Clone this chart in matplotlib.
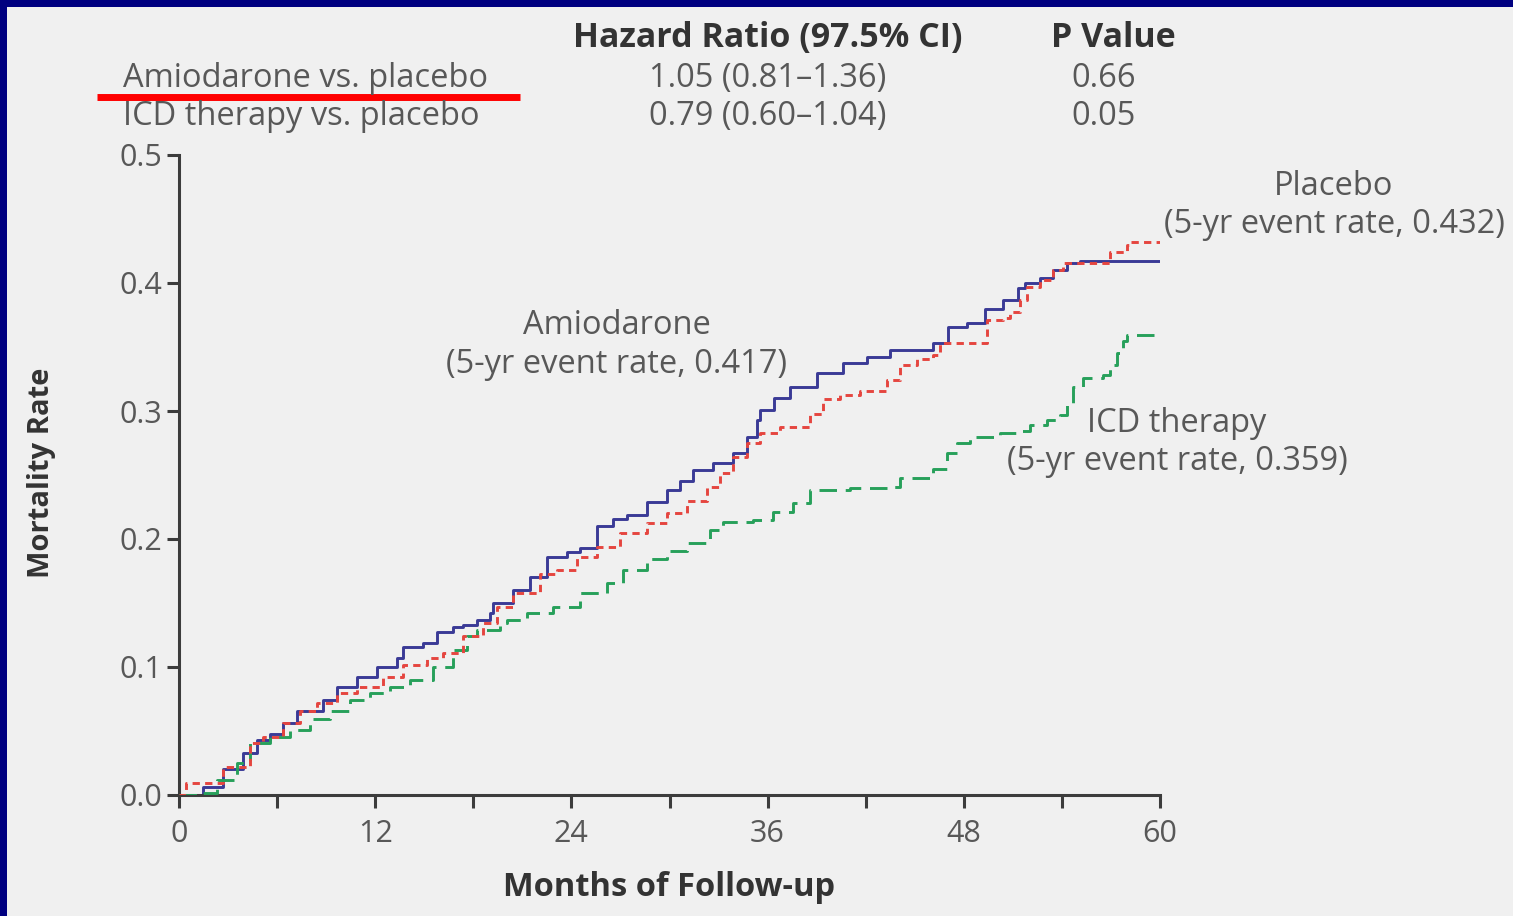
import matplotlib
matplotlib.use("Agg")
import matplotlib.pyplot as plt
from matplotlib.patches import Rectangle
from matplotlib.lines import Line2D

# ---- data ----
amio_t = [0, 1.47, 2.69, 3.91, 4.77, 5.57, 6.36, 7.22, 8.01, 8.81, 9.66, 10.89, 12.11, 13.33, 13.70,
          14.92, 15.78, 16.76, 17.37, 18.23, 19.02, 19.2, 20.43, 21.47, 22.51, 23.73, 24.53, 25.57,
          26.54, 27.40, 28.62, 29.85, 30.64, 31.44, 32.66, 33.88, 34.74, 35.35, 35.54, 36.4, 37.37,
          39.02, 40.61, 42.08, 43.49, 46.12, 47.03, 48.2, 49.3, 50.4, 51.3, 51.74, 52.66, 53.46,
          54.31, 55.1, 60]
amio_y = [0, 0.006, 0.02, 0.033, 0.043, 0.048, 0.056, 0.066, 0.066, 0.074, 0.084, 0.092, 0.100, 0.107,
          0.116, 0.119, 0.127, 0.131, 0.133, 0.137, 0.142, 0.150, 0.160, 0.170, 0.186, 0.190, 0.193,
          0.210, 0.216, 0.219, 0.229, 0.238, 0.245, 0.254, 0.259, 0.267, 0.280, 0.293, 0.301, 0.310,
          0.319, 0.330, 0.3375, 0.342, 0.348, 0.353, 0.366, 0.369, 0.380, 0.387, 0.396, 0.400, 0.404,
          0.410, 0.416, 0.417, 0.417]

plac_t = [0, 0.43, 2.69, 4.34, 5.14, 6.36, 7.40, 8.44, 9.66, 10.89, 12.48, 13.70, 15.17, 16.15, 17.37,
          18.59, 19.45, 20.43, 22.08, 23.12, 24.34, 25.57, 26.97, 28.62, 29.85, 31.07, 32.29, 33.09,
          33.88, 34.74, 35.54, 36.76, 38.59, 39.39, 40.43, 41.65, 43.30, 44.10, 45.14, 46.12, 46.54,
          49.42, 50.40, 50.83, 51.44, 51.87, 52.66, 53.46, 54.07, 56.94, 57.98, 58.17, 60]
plac_y = [0, 0.009, 0.022, 0.041, 0.045, 0.056, 0.066, 0.072, 0.080, 0.084, 0.092, 0.1015, 0.107, 0.111,
          0.124, 0.134, 0.147, 0.158, 0.173, 0.176, 0.186, 0.194, 0.205, 0.2125, 0.220, 0.230, 0.241,
          0.2515, 0.264, 0.275, 0.283, 0.2875, 0.298, 0.309, 0.3125, 0.316, 0.324, 0.336, 0.341, 0.344,
          0.353, 0.371, 0.373, 0.377, 0.387, 0.397, 0.402, 0.410, 0.416, 0.424, 0.430, 0.432, 0.432]

icd_t = [0, 1.1, 2.32, 3.55, 4.34, 5.57, 6.79, 8.01, 9.24, 10.46, 11.68, 12.91, 14.13, 15.54, 16.76,
         17.61, 18.23, 19.63, 20.06, 21.28, 22.87, 24.53, 26.18, 27.16, 28.62, 29.85, 31.07, 32.48,
         33.27, 35.11, 36.33, 37.55, 38.59, 41.04, 43.30, 44.10, 46.12, 46.97, 47.58, 48.38, 50.21,
         51.44, 52.05, 53.09, 53.88, 54.31, 54.68, 55.29, 56.51, 56.94, 57.37, 57.74, 57.98, 60]
icd_y = [0, 0.0016, 0.012, 0.025, 0.041, 0.045, 0.051, 0.059, 0.066, 0.074, 0.080, 0.084, 0.090, 0.100,
         0.113, 0.124, 0.129, 0.134, 0.137, 0.142, 0.147, 0.158, 0.166, 0.176, 0.184, 0.191, 0.197,
         0.207, 0.213, 0.215, 0.221, 0.228, 0.238, 0.240, 0.241, 0.248, 0.255, 0.267, 0.275, 0.280,
         0.283, 0.284, 0.289, 0.293, 0.297, 0.306, 0.319, 0.326, 0.328, 0.336, 0.345, 0.355, 0.359, 0.359]

x_ticks = [0, 12, 24, 36, 48, 60]
x_minor = [6, 18, 30, 42, 54]
y_ticks = [0.0, 0.1, 0.2, 0.3, 0.4, 0.5]
y_ticklabels = ["0.0", "0.1", "0.2", "0.3", "0.4", "0.5"]

table_rows = ["Amiodarone vs. placebo", "ICD therapy vs. placebo"]
table_hr = ["1.05 (0.81\u20131.36)", "0.79 (0.60\u20131.04)"]
table_p = ["0.66", "0.05"]

# ---- style ----
W, H = 1513, 916
BG = "#f0f0f0"
NAVY = "#000080"
TXT = "#585858"
DARK = "#333333"
C_AMIO = "#3a3a96"
C_PLAC = "#e5453f"
C_ICD = "#27a05a"
FONT = "Open Sans"
FS = 23.5

fig = plt.figure(figsize=(W / 100, H / 100), dpi=100, facecolor=BG)

def fx(px):
    return px / W

def fy(py):
    return 1 - py / H

# navy border top and left
fig.patches.append(Rectangle((0, fy(7)), 1, 7 / H, transform=fig.transFigure,
                             facecolor=NAVY, edgecolor="none", zorder=10))
fig.patches.append(Rectangle((0, 0), 7 / W, 1, transform=fig.transFigure,
                             facecolor=NAVY, edgecolor="none", zorder=10))

ax = fig.add_axes([fx(179), fy(795), fx(1160) - fx(179), fy(155) - fy(795)])
ax.set_facecolor(BG)
ax.set_xlim(0, 60)
ax.set_ylim(0, 0.5)

ax.plot(icd_t, icd_y, drawstyle="steps-post", color=C_ICD, lw=2.1,
        linestyle=(0, (6, 3)), zorder=3)
ax.plot(plac_t, plac_y, drawstyle="steps-post", color=C_PLAC, lw=2.1,
        linestyle=(0, (2.5, 1.8)), zorder=4)
ax.plot(amio_t, amio_y, drawstyle="steps-post", color=C_AMIO, lw=2.1, zorder=2)

for s in ["top", "right"]:
    ax.spines[s].set_visible(False)
for s in ["left", "bottom"]:
    ax.spines[s].set_color("#3c3c3c")
    ax.spines[s].set_linewidth(2.2)

ax.set_xticks(x_ticks)
ax.set_xticks(x_minor, minor=True)
ax.set_yticks(y_ticks)
ax.set_yticklabels(y_ticklabels)
ax.tick_params(axis="both", which="both", direction="out", color="#3c3c3c", width=2.2,
               labelcolor=TXT, labelsize=22)
ax.tick_params(axis="x", which="both", length=9, pad=8)
ax.tick_params(axis="y", length=9, pad=3)
for lab in ax.get_xticklabels() + ax.get_yticklabels():
    lab.set_fontfamily(FONT)

fig.text(fx(669), fy(888), "Months of Follow-up", ha="center", va="center",
         fontsize=23.5, fontweight="bold", color=DARK, family=FONT)
fig.text(fx(42), fy(473), "Mortality Rate", ha="center", va="center", rotation=90,
         fontsize=21, fontweight="bold", color=DARK, family=FONT)

# header table (baselines)
fig.text(fx(768), fy(47), "Hazard Ratio (97.5% CI)", ha="center", va="baseline",
         fontsize=24.5, fontweight="bold", color=DARK, family=FONT)
fig.text(fx(1113), fy(47), "P Value", ha="center", va="baseline",
         fontsize=24.5, fontweight="bold", color=DARK, family=FONT)
row_base = [87, 125]
for i in range(2):
    fig.text(fx(123), fy(row_base[i]), table_rows[i], ha="left", va="baseline",
             fontsize=FS, color=TXT, family=FONT)
    fig.text(fx(768), fy(row_base[i]), table_hr[i], ha="center", va="baseline",
             fontsize=FS, color=TXT, family=FONT)
    fig.text(fx(1104), fy(row_base[i]), table_p[i], ha="center", va="baseline",
             fontsize=FS, color=TXT, family=FONT)

# red underline
fig.lines.append(Line2D([fx(97), fx(520)], [fy(97), fy(97)], transform=fig.transFigure,
                        color="#ff0000", lw=5, solid_capstyle="butt"))

# curve labels (baselines)
labels = [
    (1334, 195, "Placebo"), (1334, 233, "(5-yr event rate, 0.432)"),
    (617, 334, "Amiodarone"), (617, 373, "(5-yr event rate, 0.417)"),
    (1177, 432, "ICD therapy"), (1177, 470, "(5-yr event rate, 0.359)"),
]
for x, y, s in labels:
    fig.text(fx(x), fy(y), s, ha="center", va="baseline", fontsize=FS, color=TXT, family=FONT)

fig.savefig("out.png", dpi=100, facecolor=BG)
